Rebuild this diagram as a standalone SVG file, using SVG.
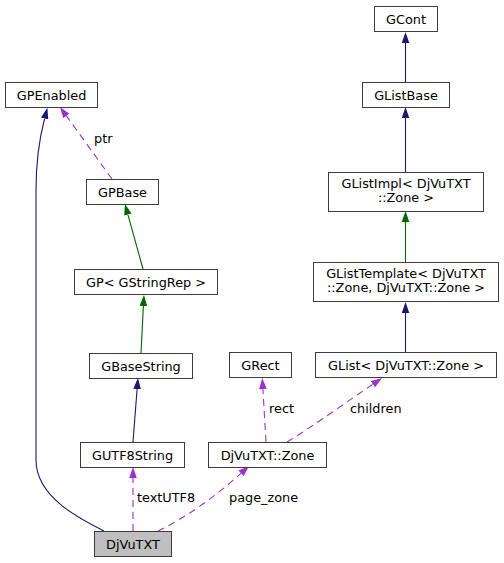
<svg xmlns="http://www.w3.org/2000/svg" width="504" height="563" viewBox="0 0 504 563">
<defs>
<style>
.n rect{fill:#fff;stroke:#3c3c3c;stroke-width:1}
text{font-family:"DejaVu Sans",sans-serif;font-size:12.85px;fill:#000}
.n text{text-anchor:middle}
.e{fill:none;stroke-width:1.1}
.b{stroke:#191970}
.g{stroke:#006400}
.p{stroke:#9a32cd;stroke-dasharray:7,5}
</style>
<marker id="ab" viewBox="0 -4 11 8" refX="0" refY="0" markerWidth="11" markerHeight="8" markerUnits="userSpaceOnUse" orient="auto"><path d="M0,-3.8L11,0L0,3.8z" fill="#191970"/></marker>
<marker id="ag" viewBox="0 -4 11 8" refX="0" refY="0" markerWidth="11" markerHeight="8" markerUnits="userSpaceOnUse" orient="auto"><path d="M0,-3.8L11,0L0,3.8z" fill="#006400"/></marker>
<marker id="ap" viewBox="0 -4 11 8" refX="0" refY="0" markerWidth="11" markerHeight="8" markerUnits="userSpaceOnUse" orient="auto"><path d="M0,-3.8L11,0L0,3.8z" fill="#9a32cd"/></marker>
</defs>
<g id="edges">
<path class="e b" d="M405.5,82L405.5,43" marker-end="url(#ab)"/>
<path class="e b" d="M405.5,172L405.5,118" marker-end="url(#ab)"/>
<path class="e g" d="M405.5,262L405.5,222" marker-end="url(#ag)"/>
<path class="e b" d="M405.5,352L405.5,313" marker-end="url(#ab)"/>
<path class="e b" d="M104,531C80,519 36,497 36,460L36,190C36,165 39,140 44.6,118.5" marker-end="url(#ab)"/>
<path class="e p" d="M112,179L66.4,115.9" marker-end="url(#ap)"/>
<path class="e g" d="M143,269L127.9,214.6" marker-end="url(#ag)"/>
<path class="e g" d="M141,353L143.4,306" marker-end="url(#ag)"/>
<path class="e b" d="M133,442L137.1,389" marker-end="url(#ab)"/>
<path class="e p" d="M133,531L133,478" marker-end="url(#ap)"/>
<path class="e p" d="M158,531C185,518 215,497 241,473.3" marker-end="url(#ap)"/>
<path class="e p" d="M266,442L262.9,389" marker-end="url(#ap)"/>
<path class="e p" d="M287,442C315,425 345,403 372.9,384.2" marker-end="url(#ap)"/>
<text x="94" y="143">ptr</text>
<text x="269" y="413">rect</text>
<text x="350" y="413">children</text>
<text x="137" y="502">textUTF8</text>
<text x="229" y="502">page_zone</text>
</g>
<g id="GCont" class="n"><rect x="374.5" y="6.5" width="63" height="25"/><text x="406" y="23.5">GCont</text></g>
<g id="GListBase" class="n"><rect x="362.5" y="82.5" width="87" height="25"/><text x="406" y="99.5">GListBase</text></g>
<g id="GListImpl" class="n"><rect x="328.5" y="172.5" width="155" height="39"/><text x="406" y="188">GListImpl&lt; DjVuTXT</text><text x="406" y="202">::Zone &gt;</text></g>
<g id="GListTemplate" class="n"><rect x="313.5" y="262.5" width="185" height="39"/><text x="406" y="278">GListTemplate&lt; DjVuTXT</text><text x="406" y="292">::Zone, DjVuTXT::Zone &gt;</text></g>
<g id="GList" class="n"><rect x="315.5" y="352.5" width="181" height="25"/><text x="406" y="369.5">GList&lt; DjVuTXT::Zone &gt;</text></g>
<g id="GRect" class="n"><rect x="229.5" y="352.5" width="62" height="25"/><text x="260.5" y="369.5">GRect</text></g>
<g id="GPEnabled" class="n"><rect x="5.5" y="82.5" width="92" height="25"/><text x="51.5" y="99.5">GPEnabled</text></g>
<g id="GPBase" class="n"><rect x="86.5" y="179.5" width="72" height="25"/><text x="122.5" y="196.5">GPBase</text></g>
<g id="GP_GStringRep" class="n"><rect x="74.5" y="269.5" width="143" height="25"/><text x="146" y="286.5">GP&lt; GStringRep &gt;</text></g>
<g id="GBaseString" class="n"><rect x="89.5" y="353.5" width="103" height="25"/><text x="141" y="370.5">GBaseString</text></g>
<g id="GUTF8String" class="n"><rect x="80.5" y="442.5" width="104" height="25"/><text x="132.5" y="459.5">GUTF8String</text></g>
<g id="Zone" class="n"><rect x="208.5" y="442.5" width="118" height="25"/><text x="267.5" y="459.5">DjVuTXT::Zone</text></g>
<g id="DjVuTXT" class="n"><rect x="94.5" y="531.5" width="77" height="25" style="fill:#bfbfbf"/><text x="133" y="548.5">DjVuTXT</text></g>
</svg>
